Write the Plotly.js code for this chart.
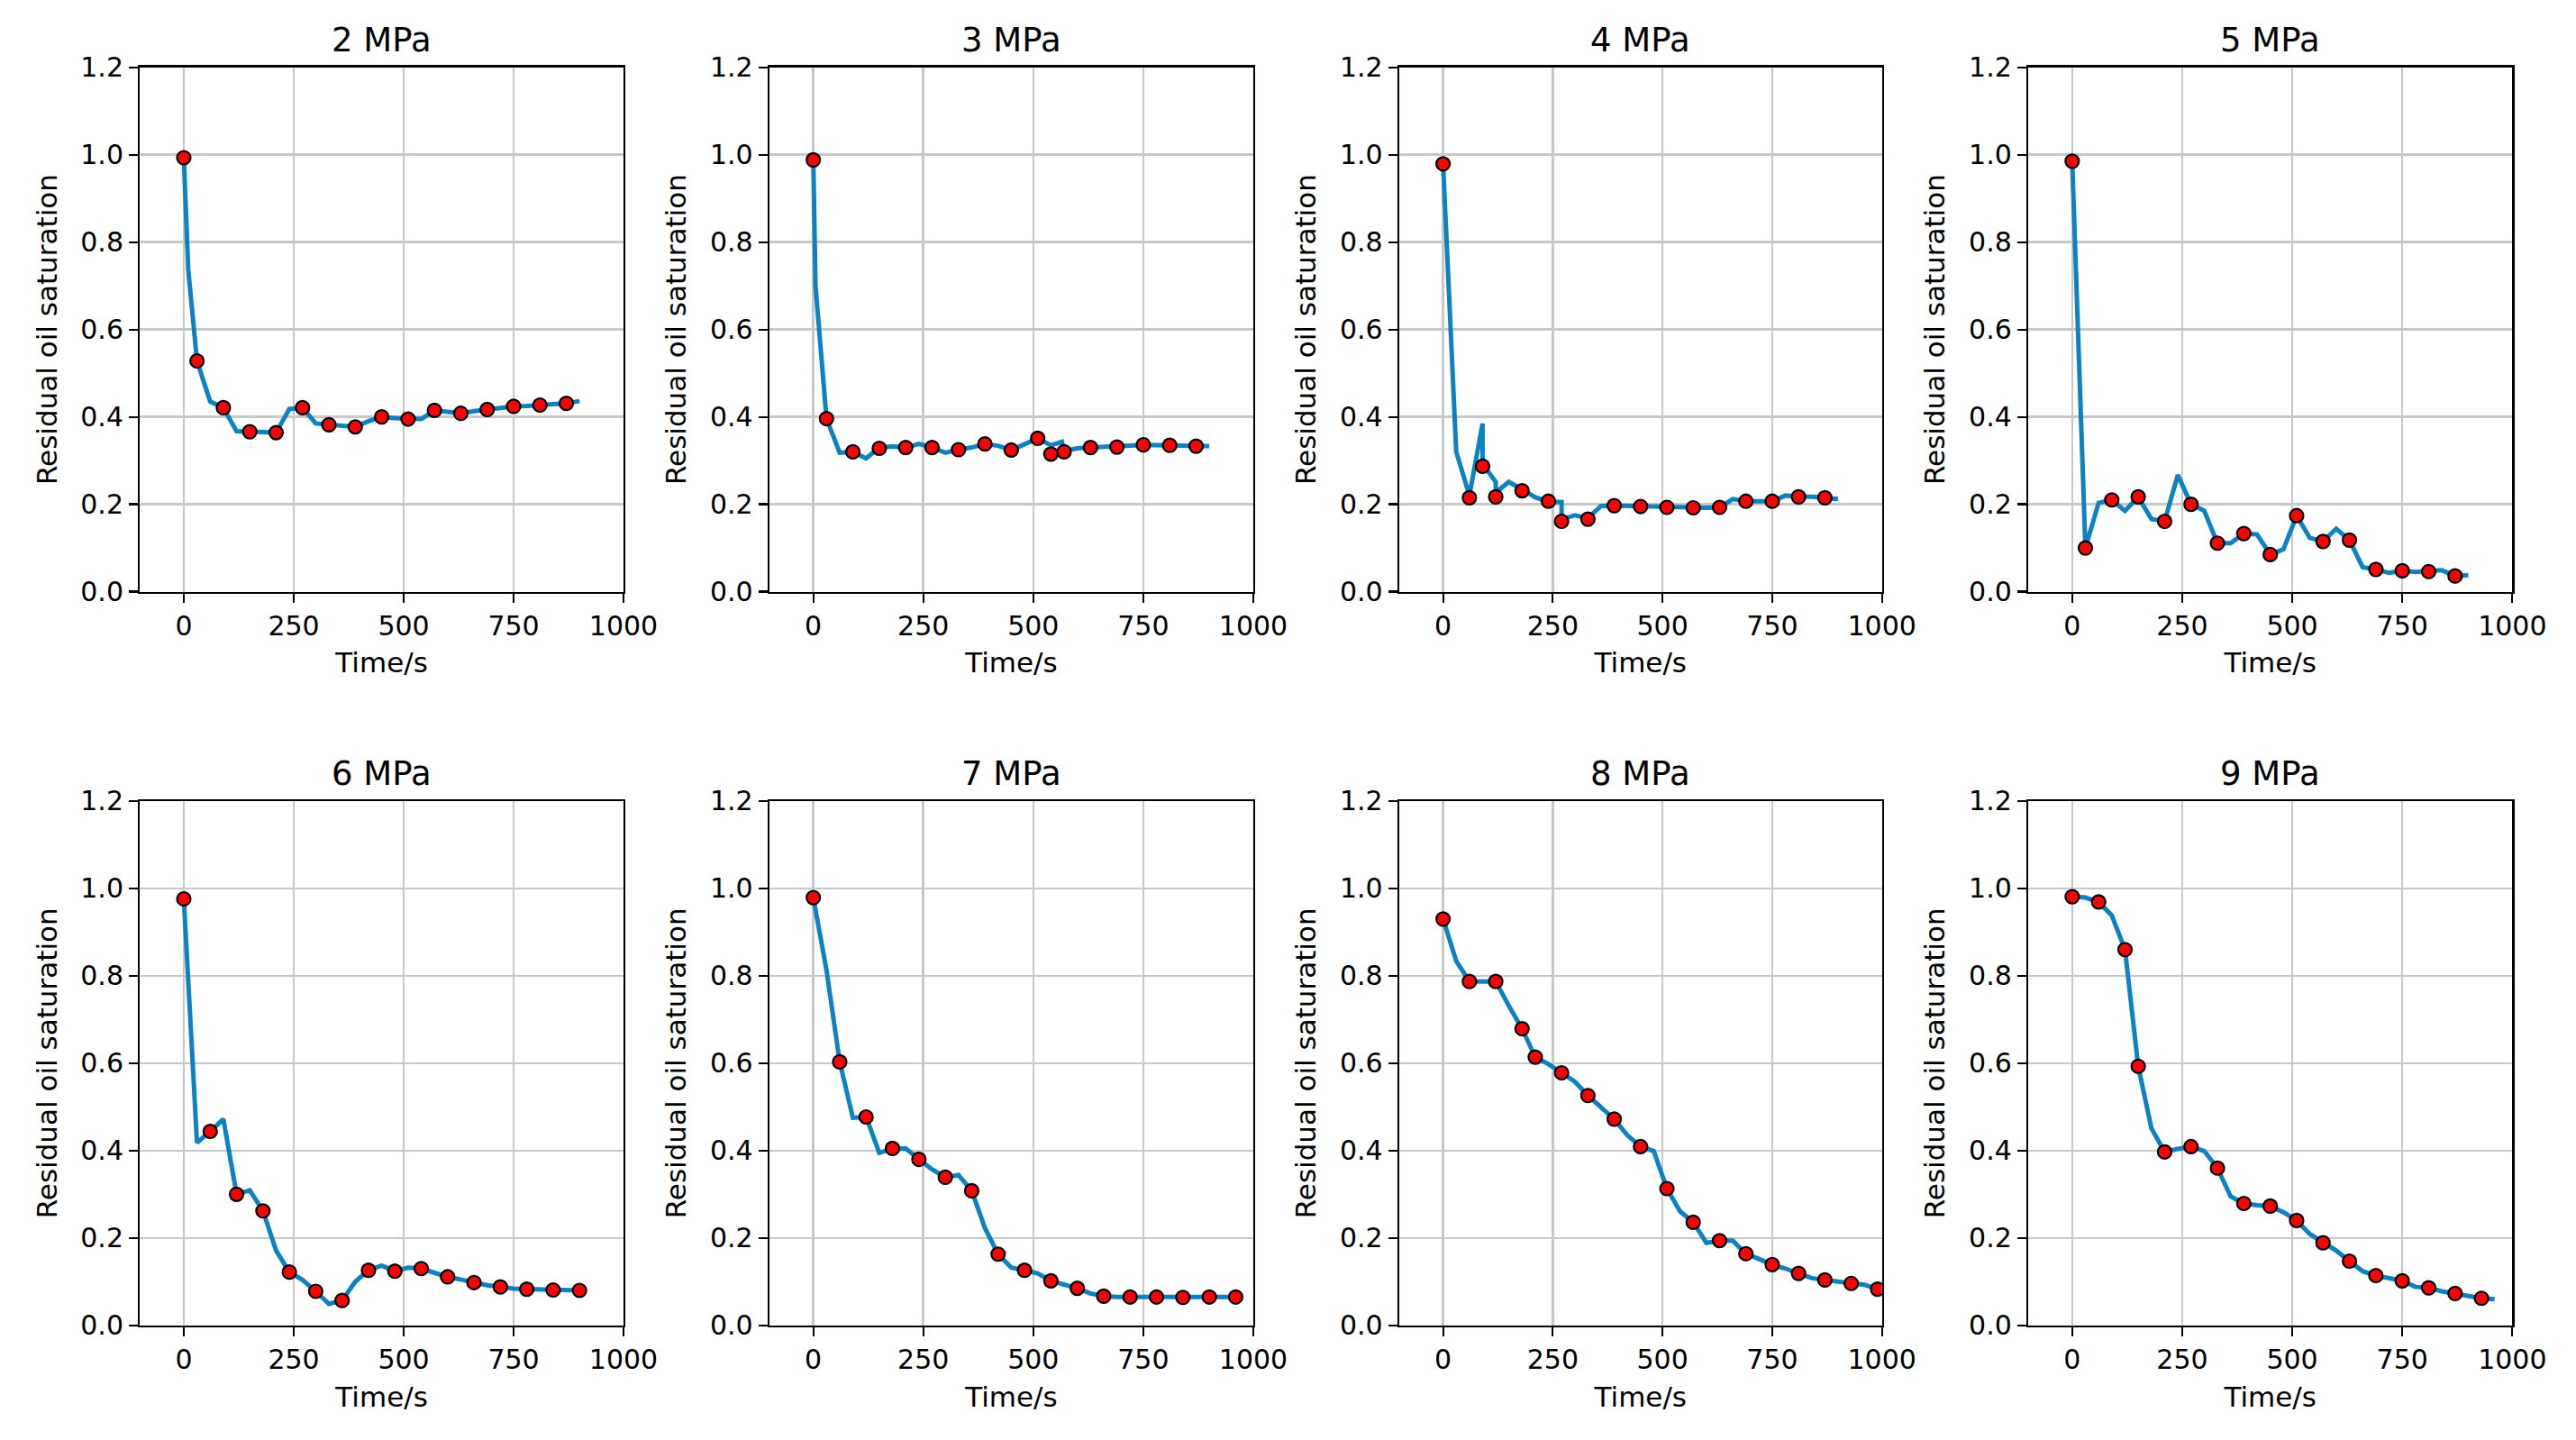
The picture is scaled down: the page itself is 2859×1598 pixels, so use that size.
<!DOCTYPE html>
<html>
<head>
<meta charset="utf-8">
<script src="https://cdn.plot.ly/plotly-3.0.1.min.js"></script>
<style>html,body{margin:0;padding:0;background:#fff;}#chart{width:2859px;height:1598px;}</style>
</head>
<body>
<div id="chart"></div>
<script>
// ---- data ----
const panelTitles = ["2 MPa","3 MPa","4 MPa","5 MPa","6 MPa","7 MPa","8 MPa","9 MPa"];
const xTickVals = [0,250,500,750,1000];
const yTickVals = [0,0.2,0.4,0.6,0.8,1.0,1.2];

// 2 MPa
const p2_markT = [0,30,90,150,210,270,330,390,450,510,570,630,690,750,810,870];
const p2_markS = [0.993,0.528,0.421,0.366,0.364,0.421,0.382,0.377,0.400,0.395,0.415,0.408,0.417,0.424,0.427,0.431];
const p2_lineT = [0,10,30,60,90,120,150,180,210,240,270,300,330,360,390,420,450,480,510,540,570,600,630,660,690,720,750,780,810,840,870,900];
const p2_lineS = [0.993,0.738,0.528,0.435,0.421,0.367,0.366,0.365,0.364,0.418,0.421,0.385,0.382,0.378,0.377,0.390,0.400,0.397,0.395,0.395,0.415,0.411,0.408,0.413,0.417,0.420,0.424,0.425,0.427,0.429,0.431,0.436];

// 3 MPa
const p3_markT = [0,30,90,150,210,270,330,390,450,510,540,570,630,690,750,810,870];
const p3_markS = [0.988,0.396,0.320,0.328,0.330,0.330,0.325,0.338,0.324,0.351,0.315,0.320,0.330,0.331,0.336,0.335,0.333];
const p3_lineT = [0,5,30,60,90,120,150,180,210,240,270,300,330,360,390,420,450,480,510,540,565,570,600,630,660,690,720,750,780,810,840,870,900];
const p3_lineS = [0.990,0.700,0.396,0.318,0.320,0.305,0.330,0.332,0.330,0.338,0.330,0.318,0.325,0.330,0.338,0.334,0.324,0.338,0.351,0.335,0.343,0.322,0.328,0.330,0.331,0.331,0.334,0.336,0.336,0.335,0.334,0.333,0.333];

// 4 MPa
const p4_markT = [0,60,90,120,180,240,270,330,390,450,510,570,630,690,750,810,870];
const p4_markS = [0.979,0.215,0.287,0.217,0.231,0.207,0.161,0.166,0.197,0.195,0.193,0.192,0.193,0.207,0.207,0.217,0.215];
const p4_lineT = [0,30,60,90,90,120,120,150,180,210,240,270,270,300,330,360,390,420,450,480,510,540,570,600,630,660,690,720,750,780,810,840,870,900];
const p4_lineS = [0.979,0.320,0.220,0.385,0.292,0.251,0.227,0.251,0.234,0.216,0.206,0.205,0.165,0.175,0.168,0.196,0.197,0.196,0.195,0.194,0.193,0.193,0.192,0.192,0.193,0.212,0.207,0.207,0.207,0.220,0.217,0.217,0.215,0.212];

// 5 MPa
const p5_markT = [0,30,90,150,210,270,330,390,450,510,570,630,690,750,810,870];
const p5_markS = [0.985,0.100,0.210,0.217,0.161,0.200,0.111,0.133,0.085,0.174,0.115,0.118,0.051,0.048,0.046,0.036];
const p5_lineT = [0,30,60,90,120,150,180,210,240,270,300,330,360,390,420,450,480,510,540,570,600,630,660,690,720,750,780,810,840,870,900];
const p5_lineS = [0.985,0.100,0.203,0.210,0.185,0.217,0.166,0.161,0.267,0.200,0.185,0.111,0.111,0.133,0.131,0.085,0.097,0.174,0.123,0.115,0.144,0.118,0.056,0.051,0.043,0.048,0.045,0.046,0.049,0.036,0.038];

// 6 MPa
const p6_markT = [0,60,120,180,240,300,360,420,480,540,600,660,720,780,840,900];
const p6_markS = [0.976,0.444,0.300,0.262,0.122,0.078,0.057,0.126,0.124,0.130,0.111,0.098,0.088,0.083,0.081,0.080];
const p6_lineT = [0,30,60,90,120,150,180,210,240,270,300,330,360,390,420,450,480,510,540,570,600,630,660,690,720,750,780,810,840,870,900];
const p6_lineS = [0.976,0.418,0.444,0.472,0.300,0.309,0.262,0.171,0.122,0.104,0.078,0.049,0.057,0.100,0.126,0.137,0.124,0.132,0.130,0.120,0.111,0.105,0.098,0.092,0.088,0.084,0.083,0.082,0.081,0.080,0.080];

// 7 MPa
const p7_markT = [0,60,120,180,240,300,360,420,480,540,600,660,720,780,840,900,960];
const p7_markS = [0.979,0.603,0.477,0.405,0.380,0.339,0.308,0.163,0.126,0.102,0.085,0.067,0.065,0.065,0.064,0.065,0.065];
const p7_lineT = [0,30,60,90,120,150,180,210,240,270,300,330,360,390,420,450,480,510,540,570,600,630,660,690,720,750,780,810,840,870,900,930,960];
const p7_lineS = [0.979,0.813,0.603,0.475,0.477,0.395,0.405,0.405,0.380,0.357,0.339,0.344,0.308,0.223,0.163,0.132,0.126,0.119,0.102,0.093,0.085,0.073,0.067,0.065,0.065,0.065,0.065,0.065,0.064,0.065,0.065,0.065,0.065];

// 8 MPa
const p8_markT = [0,60,120,180,210,270,330,390,450,510,570,630,690,750,810,870,930,990];
const p8_markS = [0.930,0.787,0.787,0.679,0.614,0.578,0.526,0.472,0.409,0.313,0.236,0.194,0.164,0.139,0.119,0.104,0.096,0.083];
const p8_lineT = [0,30,60,90,120,150,180,210,240,270,300,330,360,390,420,450,480,510,540,570,600,630,660,690,720,750,780,810,840,870,900,930,960,990];
const p8_lineS = [0.930,0.834,0.787,0.787,0.787,0.731,0.679,0.614,0.598,0.578,0.558,0.526,0.500,0.472,0.435,0.409,0.399,0.313,0.261,0.236,0.189,0.194,0.194,0.164,0.152,0.139,0.130,0.119,0.108,0.104,0.100,0.096,0.093,0.083];

// 9 MPa
const p9_markT = [0,60,120,150,210,270,330,390,450,510,570,630,690,750,810,870,930];
const p9_markS = [0.981,0.969,0.860,0.593,0.397,0.409,0.360,0.279,0.273,0.240,0.189,0.147,0.114,0.102,0.086,0.073,0.062];
const p9_lineT = [0,30,60,90,120,150,180,210,240,270,300,330,360,390,420,450,480,510,540,570,600,630,660,690,720,750,780,810,840,870,900,930,960];
const p9_lineS = [0.981,0.979,0.969,0.938,0.860,0.593,0.451,0.397,0.404,0.409,0.399,0.360,0.295,0.279,0.275,0.273,0.259,0.240,0.209,0.189,0.171,0.147,0.124,0.114,0.107,0.102,0.088,0.086,0.078,0.073,0.069,0.062,0.060];

const panels = [
  [p2_lineT,p2_lineS,p2_markT,p2_markS],
  [p3_lineT,p3_lineS,p3_markT,p3_markS],
  [p4_lineT,p4_lineS,p4_markT,p4_markS],
  [p5_lineT,p5_lineS,p5_markT,p5_markS],
  [p6_lineT,p6_lineS,p6_markT,p6_markS],
  [p7_lineT,p7_lineS,p7_markT,p7_markS],
  [p8_lineT,p8_lineS,p8_markT,p8_markS],
  [p9_lineT,p9_lineS,p9_markT,p9_markS]
];

// ---- layout ----
const W = 2859, H = 1598;
const colPx = [[155.2,692],[853.8,1391],[1552.9,2088.7],[2251,2788.3]];
const rowPx = [[74.6,656.6],[888.9,1470.8]];
const FONT = "DejaVu Sans";
const lineColor = "#0a82c4";
const TICK_SIZE = 30, LABEL_SIZE = 31, TITLE_SIZE = 37;

const traces = [];
const layout = {
  width: W, height: H,
  margin: {l:0, r:0, t:0, b:0},
  paper_bgcolor: "#fff", plot_bgcolor: "#fff",
  showlegend: false,
  font: {family: FONT, color: "#000"},
  annotations: []
};

panels.forEach((p, i) => {
  const r = Math.floor(i / 4), c = i % 4;
  const n = i + 1;
  const xa = "x" + (n === 1 ? "" : n), ya = "y" + (n === 1 ? "" : n);
  const xKey = "xaxis" + (n === 1 ? "" : n), yKey = "yaxis" + (n === 1 ? "" : n);
  const xd = [colPx[c][0] / W, colPx[c][1] / W];
  const yd = [1 - rowPx[r][1] / H, 1 - rowPx[r][0] / H];

  traces.push({x: p[0], y: p[1], xaxis: xa, yaxis: ya, type: "scatter", mode: "lines",
    line: {color: lineColor, width: 5}, hoverinfo: "skip"});
  traces.push({x: p[2], y: p[3], xaxis: xa, yaxis: ya, type: "scatter", mode: "markers",
    marker: {color: "#ff0000", size: 15, line: {color: "#000", width: 2.2}}});

  const common = {
    ticks: "outside", ticklen: 10, tickwidth: 2.2, tickcolor: "#000",
    showline: true, linecolor: "#000", linewidth: 2.2, mirror: true,
    showgrid: true, gridcolor: "#c8c8c8", gridwidth: 2.6, zeroline: false,
    tickfont: {family: FONT, size: TICK_SIZE, color: "#000"}
  };
  layout[xKey] = Object.assign({}, common, {
    domain: xd, anchor: ya, range: [-100, 1000], tickmode: "array", tickvals: xTickVals,
    title: {text: "Time/s", font: {family: FONT, size: LABEL_SIZE, color: "#000"}, standoff: 14}
  });
  layout[yKey] = Object.assign({}, common, {
    domain: yd, anchor: xa, range: [0, 1.2], tickmode: "array", tickvals: yTickVals,
    tickformat: ".1f",
    title: {text: "Residual oil saturation", font: {family: FONT, size: LABEL_SIZE, color: "#000"}, standoff: 17}
  });
  layout.annotations.push({
    text: panelTitles[i], xref: "paper", yref: "paper",
    x: (xd[0] + xd[1]) / 2, y: yd[1], xanchor: "center", yanchor: "bottom",
    yshift: 7, showarrow: false, font: {family: FONT, size: TITLE_SIZE, color: "#000"}
  });
});

Plotly.newPlot("chart", traces, layout, {staticPlot: true, displayModeBar: false});
</script>
</body>
</html>
